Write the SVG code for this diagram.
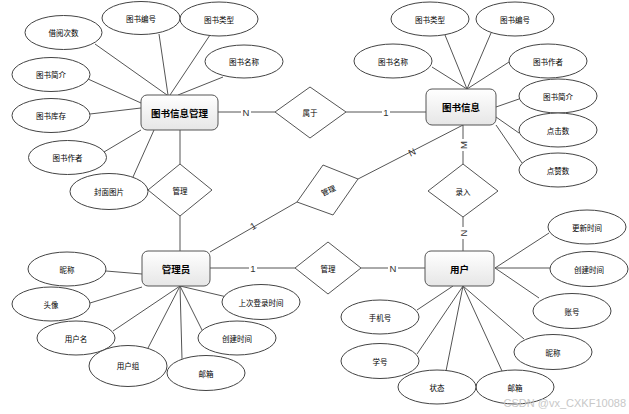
<svg xmlns="http://www.w3.org/2000/svg" width="629" height="414" viewBox="0 0 629 414">
<defs>
<linearGradient id="g" x1="0" y1="0" x2="0" y2="1">
<stop offset="0" stop-color="#ffffff"/>
<stop offset="1" stop-color="#e6e6e6"/>
</linearGradient>
<style>
.e ellipse{fill:#fff;stroke:#444;stroke-width:1}
.e text,.d text{font-family:"Noto Sans CJK SC","Noto Sans CJK JP",sans-serif;font-size:7.5px;fill:#000;text-anchor:middle;dominant-baseline:central}
.b rect{fill:url(#g);stroke:#555;stroke-width:1}
.b text{font-family:"Noto Sans CJK SC","Noto Sans CJK JP",sans-serif;font-size:9.5px;font-weight:bold;fill:#000;text-anchor:middle;dominant-baseline:central}
.d polygon{fill:#fff;stroke:#555;stroke-width:1}
#connectors line{stroke:#555;stroke-width:1}
.l{font-family:"Liberation Sans",Arial,sans-serif;font-size:9.5px;fill:#333;text-anchor:middle;dominant-baseline:central}
.lb{fill:#fff}
</style>
</defs>
<rect width="629" height="414" fill="#fff"/>

<g id="connectors">
<!-- 图书信息管理 attributes -->
<line x1="95" y1="44" x2="167" y2="95"/>
<line x1="159" y1="34" x2="168" y2="95"/>
<line x1="210" y1="35" x2="170" y2="95"/>
<line x1="223" y1="77" x2="178" y2="95"/>
<line x1="88" y1="79" x2="141" y2="103"/>
<line x1="90" y1="114" x2="141" y2="108"/>
<line x1="104" y1="152" x2="141" y2="130"/>
<line x1="133" y1="177" x2="154" y2="130"/>
<line x1="180" y1="130" x2="180" y2="164"/>
<line x1="180" y1="216" x2="180" y2="251"/>
<!-- 图书信息 attributes -->
<line x1="432" y1="67" x2="467" y2="89"/>
<line x1="445" y1="35" x2="467" y2="89"/>
<line x1="491" y1="33" x2="467" y2="89"/>
<line x1="509" y1="62" x2="467" y2="89"/>
<line x1="519" y1="99" x2="496" y2="107"/>
<line x1="519" y1="133" x2="496" y2="117"/>
<line x1="522" y1="163" x2="496" y2="125"/>
<line x1="463" y1="125" x2="463" y2="164"/>
<line x1="463" y1="217" x2="463" y2="251"/>
<!-- relations -->
<line x1="218" y1="112" x2="275" y2="112"/>
<line x1="346" y1="112" x2="426" y2="112"/>
<line x1="210" y1="268" x2="295" y2="268"/>
<line x1="361" y1="268" x2="425" y2="268"/>
<line x1="463" y1="125" x2="358" y2="179"/>
<line x1="297" y1="202" x2="210" y2="252"/>
<!-- 管理员 attributes -->
<line x1="106" y1="271" x2="142" y2="274"/>
<line x1="90" y1="303" x2="142" y2="287"/>
<line x1="113" y1="331" x2="180" y2="286"/>
<line x1="148" y1="348" x2="180" y2="286"/>
<line x1="182" y1="359" x2="180" y2="286"/>
<line x1="202" y1="330" x2="180" y2="286"/>
<line x1="227" y1="297" x2="180" y2="286"/>
<!-- 用户 attributes -->
<line x1="549" y1="233" x2="495" y2="268"/>
<line x1="551" y1="268" x2="495" y2="268"/>
<line x1="539" y1="298" x2="495" y2="268"/>
<line x1="417" y1="310" x2="453" y2="286"/>
<line x1="417" y1="354" x2="463" y2="286"/>
<line x1="446" y1="371" x2="463" y2="286"/>
<line x1="502" y1="371" x2="463" y2="286"/>
<line x1="524" y1="339" x2="463" y2="286"/>
<!-- labels -->
<rect class="lb" x="241" y="106" width="10" height="12"/>
<text class="l" x="246" y="112">N</text>
<rect class="lb" x="382" y="106" width="8" height="12"/>
<text class="l" x="386" y="112" fill="#3a5fa0">1</text>
<rect class="lb" x="249" y="262" width="8" height="12"/>
<text class="l" x="253" y="268" fill="#8a6d1a">1</text>
<rect class="lb" x="388" y="262" width="10" height="12"/>
<text class="l" x="393" y="268">N</text>
<rect class="lb" x="458" y="139" width="10" height="12"/>
<text class="l" x="463" y="145" transform="rotate(-90 463 145)">M</text>
<rect class="lb" x="458" y="227" width="10" height="12"/>
<text class="l" x="463" y="233" transform="rotate(-90 463 233)">N</text>
<text class="l" x="412" y="152" transform="rotate(-27 412 152)">N</text>
<text class="l" x="253" y="226" transform="rotate(-30 253 226)">1</text>
</g>

<!-- relationship diamonds -->
<g id="rel-shuyu" class="d"><polygon points="310,87 346,112 310,138 275,112"/><text x="310" y="112">属于</text></g>
<g id="rel-guanli1" class="d"><polygon points="180,164 212,190 180,216 148,190"/><text x="180" y="190">管理</text></g>
<g id="rel-guanli2" class="d"><polygon points="323,165 358,179 333,215 297,202"/><text x="328" y="190" transform="rotate(-25 328 190)">管理</text></g>
<g id="rel-guanli3" class="d"><polygon points="328,242 361,268 328,294 295,268"/><text x="328" y="268">管理</text></g>
<g id="rel-luru" class="d"><polygon points="463,164 498,191 463,217 428,191"/><text x="463" y="191">录入</text></g>

<!-- entities -->
<g id="ent-bookmgr" class="b"><rect x="141" y="95" width="77" height="35" rx="6"/><text x="179.5" y="112.5">图书信息管理</text></g>
<g id="ent-book" class="b"><rect x="426" y="89" width="70" height="36" rx="6"/><text x="461" y="107">图书信息</text></g>
<g id="ent-admin" class="b"><rect x="142" y="251" width="68" height="35" rx="6"/><text x="176" y="268.5">管理员</text></g>
<g id="ent-user" class="b"><rect x="425" y="251" width="69" height="35" rx="6"/><text x="459.5" y="268.5">用户</text></g>

<!-- 图书信息管理 attributes -->
<g id="a1" class="e"><ellipse cx="63.5" cy="32.5" rx="38.5" ry="17"/><text x="63.5" y="32.5">借阅次数</text></g>
<g id="a2" class="e"><ellipse cx="141" cy="18" rx="39" ry="16.5"/><text x="141" y="18">图书编号</text></g>
<g id="a3" class="e"><ellipse cx="219" cy="19" rx="39" ry="17"/><text x="219" y="19">图书类型</text></g>
<g id="a4" class="e"><ellipse cx="244" cy="61.5" rx="39" ry="16.5"/><text x="244" y="61.5">图书名称</text></g>
<g id="a5" class="e"><ellipse cx="51" cy="74.5" rx="39" ry="17"/><text x="51" y="74.5">图书简介</text></g>
<g id="a6" class="e"><ellipse cx="51" cy="115.5" rx="39" ry="17"/><text x="51" y="115.5">图书库存</text></g>
<g id="a7" class="e"><ellipse cx="67.5" cy="157.5" rx="39" ry="17"/><text x="67.5" y="157.5">图书作者</text></g>
<g id="a8" class="e"><ellipse cx="109" cy="191.5" rx="39" ry="18"/><text x="109" y="191.5">封面图片</text></g>

<!-- 图书信息 attributes -->
<g id="b1" class="e"><ellipse cx="430" cy="19" rx="39" ry="17"/><text x="430" y="19">图书类型</text></g>
<g id="b2" class="e"><ellipse cx="515" cy="19" rx="39" ry="17"/><text x="515" y="19">图书编号</text></g>
<g id="b3" class="e"><ellipse cx="393" cy="61" rx="39" ry="17"/><text x="393" y="61">图书名称</text></g>
<g id="b4" class="e"><ellipse cx="548" cy="61" rx="39" ry="17"/><text x="548" y="61">图书作者</text></g>
<g id="b5" class="e"><ellipse cx="558" cy="96" rx="39" ry="17"/><text x="558" y="96">图书简介</text></g>
<g id="b6" class="e"><ellipse cx="558" cy="130" rx="39" ry="17"/><text x="558" y="130">点击数</text></g>
<g id="b7" class="e"><ellipse cx="558" cy="170" rx="39" ry="17"/><text x="558" y="170">点赞数</text></g>

<!-- 管理员 attributes -->
<g id="c1" class="e"><ellipse cx="67" cy="269" rx="39" ry="17"/><text x="67" y="269">昵称</text></g>
<g id="c2" class="e"><ellipse cx="51" cy="304" rx="39" ry="17"/><text x="51" y="304">头像</text></g>
<g id="c3" class="e"><ellipse cx="76" cy="338" rx="39" ry="17"/><text x="76" y="338">用户名</text></g>
<g id="c4" class="e"><ellipse cx="128" cy="366" rx="39" ry="20.5"/><text x="128" y="365">用户组</text></g>
<g id="c5" class="e"><ellipse cx="206" cy="373" rx="39" ry="17.5"/><text x="206" y="373">邮箱</text></g>
<g id="c6" class="e"><ellipse cx="237" cy="338" rx="39" ry="17"/><text x="237" y="338">创建时间</text></g>
<g id="c7" class="e"><ellipse cx="261" cy="302" rx="39" ry="17.5"/><text x="261" y="302">上次登录时间</text></g>

<!-- 用户 attributes -->
<g id="d1" class="e"><ellipse cx="587" cy="227" rx="39" ry="17"/><text x="587" y="227">更新时间</text></g>
<g id="d2" class="e"><ellipse cx="589" cy="269" rx="39" ry="17.5"/><text x="589" y="269">创建时间</text></g>
<g id="d3" class="e"><ellipse cx="572" cy="311" rx="39" ry="17.5"/><text x="572" y="311">账号</text></g>
<g id="d4" class="e"><ellipse cx="553" cy="352" rx="39" ry="17.5"/><text x="553" y="352">昵称</text></g>
<g id="d5" class="e"><ellipse cx="515" cy="387" rx="39" ry="17"/><text x="515" y="387">邮箱</text></g>
<g id="d6" class="e"><ellipse cx="437" cy="387" rx="39" ry="17"/><text x="437" y="387">状态</text></g>
<g id="d7" class="e"><ellipse cx="380" cy="361" rx="39" ry="17.5"/><text x="380" y="361">学号</text></g>
<g id="d8" class="e"><ellipse cx="380" cy="317" rx="39" ry="17"/><text x="380" y="317">手机号</text></g>

<text x="626" y="407" font-family="Liberation Sans,Arial,sans-serif" font-size="11" fill="#c8c8c8" text-anchor="end">CSDN @vx_CXKF10088</text>
</svg>
